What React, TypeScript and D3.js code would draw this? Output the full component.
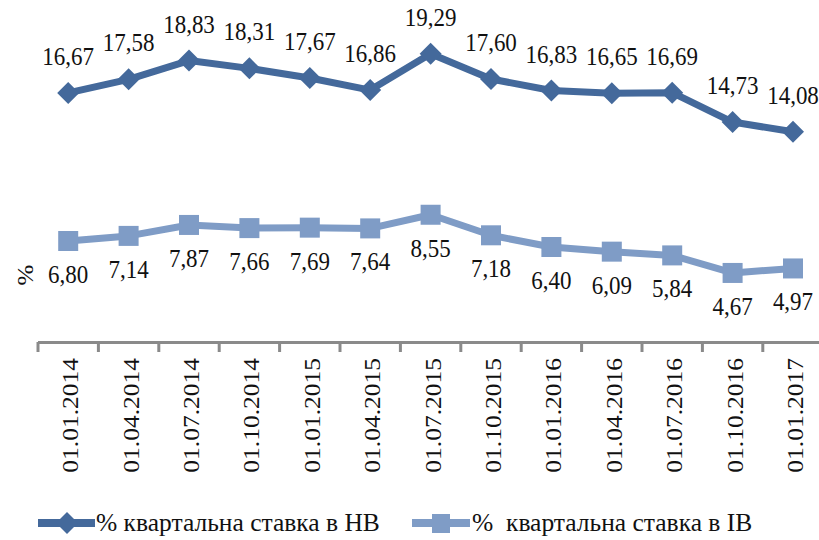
import React from "react";
import * as d3 from "d3";

const categories = [
  "01.01.2014", "01.04.2014", "01.07.2014", "01.10.2014",
  "01.01.2015", "01.04.2015", "01.07.2015", "01.10.2015",
  "01.01.2016", "01.04.2016", "01.07.2016", "01.10.2016", "01.01.2017",
];
const seriesHB = [16.67, 17.58, 18.83, 18.31, 17.67, 16.86, 19.29, 17.6, 16.83, 16.65, 16.69, 14.73, 14.08];
const seriesIB = [6.8, 7.14, 7.87, 7.66, 7.69, 7.64, 8.55, 7.18, 6.4, 6.09, 5.84, 4.67, 4.97];
const legendLabels = ["% квартальна ставка в НВ", "%  квартальна ставка в ІВ"];
const yLabel = "%";

const W = 819;
const H = 540;
const colorHB = "#44699b";
const colorIB = "#7f9cc6";
const font = "Liberation Serif";
const fmt = (v: number) => v.toFixed(2).replace(".", ",");
const SX = 0.92;

export default function App() {
  const x = d3.scaleBand<string>().domain(categories).range([38, 38 + 60.4 * 13]).padding(0);
  const y = d3.scaleLinear().domain([0, 22]).range([343, 13]);
  const cx = (c: string) => (x(c) as number) + x.bandwidth() / 2;
  const line = d3.line<number>().x((_, i) => cx(categories[i])).y((v) => y(v));
  const diamond = (px: number, py: number, r: number) =>
    `M${px},${py - r}L${px + r},${py}L${px},${py + r}L${px - r},${py}Z`;

  return (
    <svg width={W} height={H} style={{ position: "absolute", left: 0, top: 0, background: "#fff" }}>
      <rect x={0} y={0} width={W} height={H} fill="#fff" />
      {/* axis */}
      <line x1={38} x2={W} y1={342.5} y2={342.5} stroke="#8a8a8a" strokeWidth={3} />
      {d3.range(categories.length + 1).map((i) => {
        const tx = 38 + i * x.bandwidth();
        return <line key={i} x1={tx} x2={tx} y1={342} y2={352} stroke="#8a8a8a" strokeWidth={3} />;
      })}
      {categories.map((c) => (
        <text
          key={c}
          transform={`translate(${cx(c) + 10},358) rotate(-90) scale(1,${SX})`}
          textAnchor="end"
          fontFamily={font}
          fontSize={25.5}
          fill="#111"
        >
          {c}
        </text>
      ))}
      <text transform={`translate(33,275) rotate(-90) scale(1,${SX})`} textAnchor="middle" fontFamily={font} fontSize={25} fill="#111">
        {yLabel}
      </text>
      {/* HB series */}
      <path d={line(seriesHB) || ""} fill="none" stroke={colorHB} strokeWidth={7} strokeLinejoin="round" />
      {seriesHB.map((v, i) => (
        <path key={i} d={diamond(cx(categories[i]), y(v), 11)} fill={colorHB} />
      ))}
      {seriesHB.map((v, i) => (
        <text
          key={i}
          transform={`translate(${cx(categories[i])},${y(v) - 28}) scale(${SX},1)`}
          textAnchor="middle"
          fontFamily={font}
          fontSize={25}
          fill="#111"
        >
          {fmt(v)}
        </text>
      ))}
      {/* IB series */}
      <path d={line(seriesIB) || ""} fill="none" stroke={colorIB} strokeWidth={7} strokeLinejoin="round" />
      {seriesIB.map((v, i) => (
        <rect key={i} x={cx(categories[i]) - 10} y={y(v) - 10} width={20} height={20} fill={colorIB} />
      ))}
      {seriesIB.map((v, i) => (
        <text
          key={i}
          transform={`translate(${cx(categories[i])},${y(v) + 42}) scale(${SX},1)`}
          textAnchor="middle"
          fontFamily={font}
          fontSize={25}
          fill="#111"
        >
          {fmt(v)}
        </text>
      ))}
      {/* legend */}
      <line x1={38} x2={95} y1={523} y2={523} stroke={colorHB} strokeWidth={8} />
      <path d={diamond(67, 523, 11)} fill={colorHB} />
      <text x={96} y={531} fontFamily={font} fontSize={25.5} fill="#111">{legendLabels[0]}</text>
      <line x1={412} x2={470} y1={523} y2={523} stroke={colorIB} strokeWidth={8} />
      <rect x={432} y={514} width={18} height={19} fill={colorIB} />
      <text x={472} y={531} fontFamily={font} fontSize={25.5} fill="#111" style={{ whiteSpace: "pre" }}>{legendLabels[1]}</text>
    </svg>
  );
}
